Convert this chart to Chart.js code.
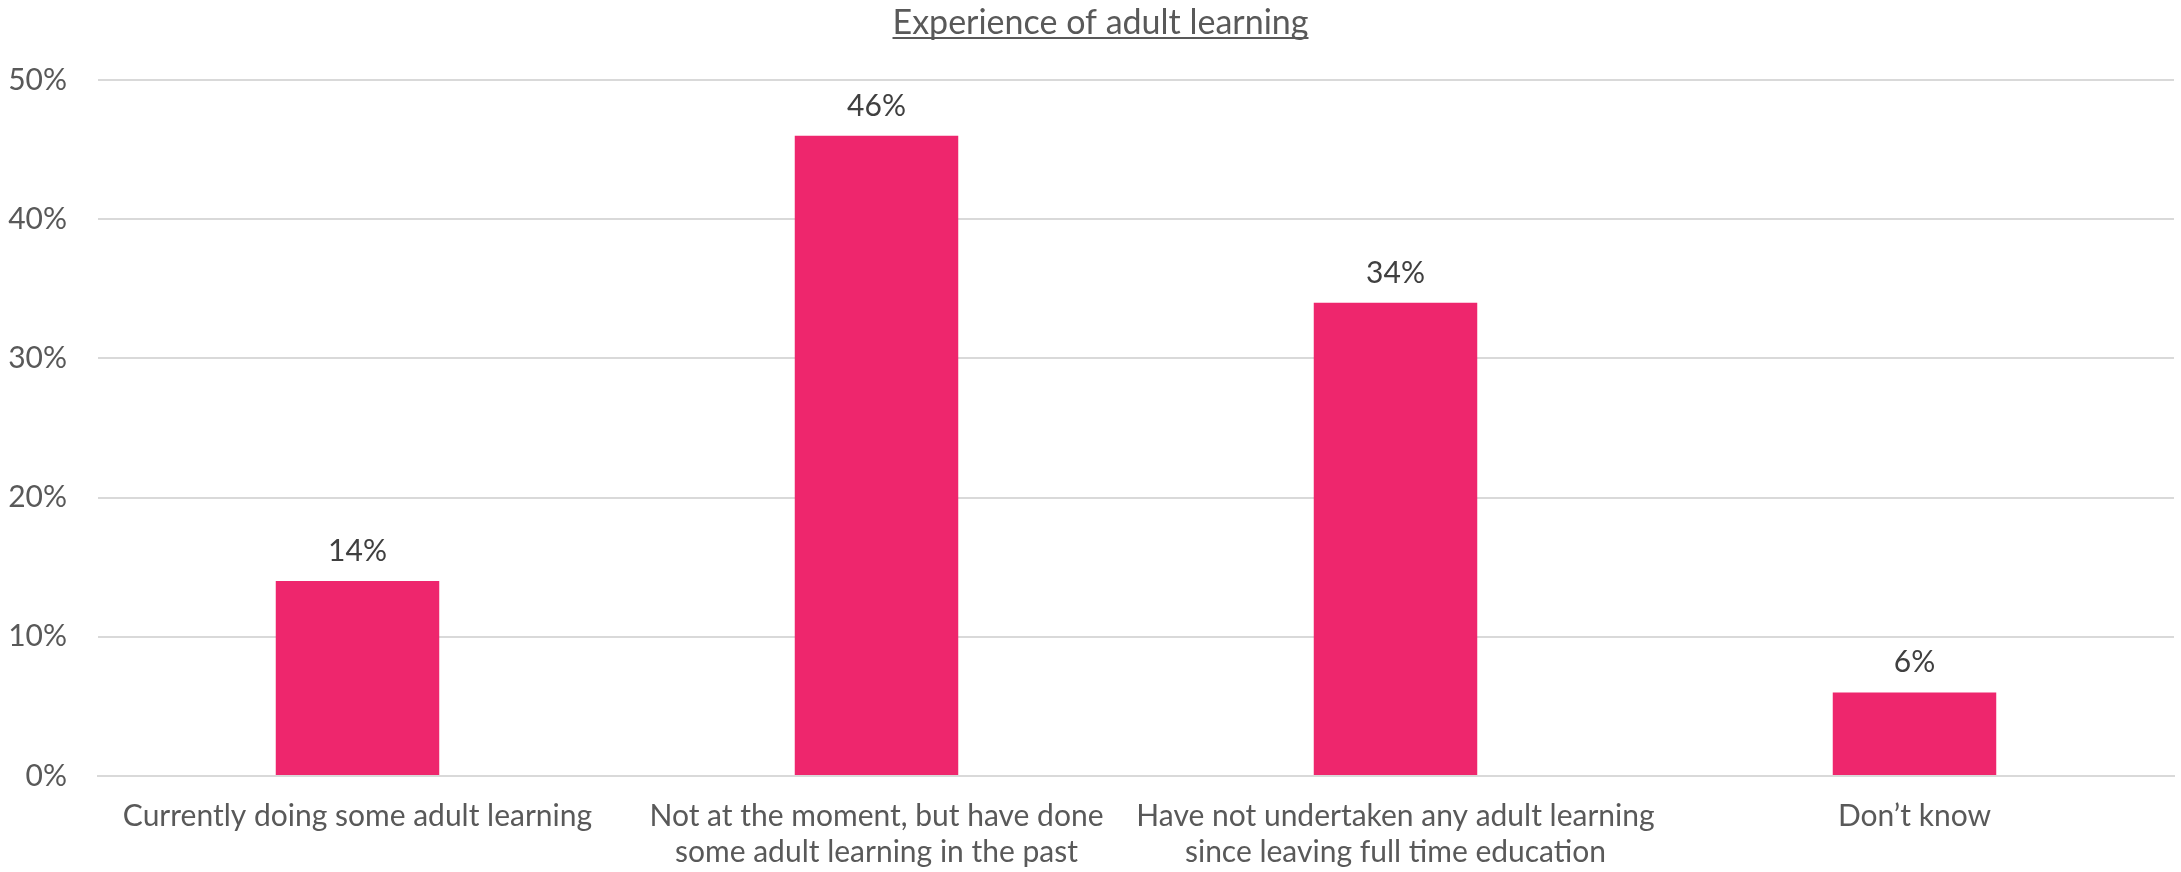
<!DOCTYPE html>
<html>
<head>
<meta charset="utf-8">
<script src="https://cdn.jsdelivr.net/npm/chart.js@4/dist/chart.umd.min.js"></script>
<style>
    html, body { margin: 0; padding: 0; background: #fff; }
    #wrap { width: 2181px; height: 872px; }
</style>
</head>
<body>
<div id="wrap"><canvas id="learningChart"></canvas></div>
<script>
const chartTitle = "Experience of adult learning";
const categories = [
    "Currently doing some adult learning",
    ["Not at the moment, but have done", "some adult learning in the past"],
    ["Have not undertaken any adult learning", "since leaving full time education"],
    "Don\u2019t know"
];
const shares = [14, 46, 34, 6];
const yTicks = [0, 10, 20, 30, 40, 50];

const FONT = "Lato, 'Noto Sans', sans-serif";

// value labels above each bar
const valueLabels = {
    id: "valueLabels",
    afterDatasetsDraw(chart) {
        const ctx = chart.ctx;
        const meta = chart.getDatasetMeta(0);
        ctx.save();
        ctx.font = "30px " + FONT;
        ctx.fillStyle = "#404040";
        ctx.textAlign = "center";
        ctx.textBaseline = "alphabetic";
        meta.data.forEach((bar, i) => {
            ctx.fillText(shares[i] + "%", bar.x, bar.y - 20);
        });
        ctx.restore();
    }
};

// underlined title centred on the canvas
const underlinedTitle = {
    id: "underlinedTitle",
    afterDraw(chart) {
        const ctx = chart.ctx;
        ctx.save();
        ctx.font = "34px " + FONT;
        ctx.fillStyle = "#595959";
        ctx.textAlign = "center";
        ctx.textBaseline = "alphabetic";
        const x = chart.width / 2 + 10;
        ctx.fillText(chartTitle, x, 34);
        const w = ctx.measureText(chartTitle).width;
        ctx.fillRect(x - w / 2, 37, w, 2);
        ctx.restore();
    }
};

new Chart(document.getElementById("learningChart"), {
    type: "bar",
    data: {
        labels: categories,
        datasets: [{
            data: shares,
            backgroundColor: "#EE266D",
            categoryPercentage: 1,
            barPercentage: 0.315
        }]
    },
    options: {
        responsive: true,
        maintainAspectRatio: false,
        animation: false,
        layout: { padding: { top: 80, right: 7, left: 0, bottom: 0 } },
        plugins: {
            legend: { display: false },
            tooltip: { enabled: false }
        },
        scales: {
            x: {
                afterFit(axis) { axis.height = 96; },
                grid: { display: false, drawTicks: false },
                border: { color: "#D9D9D9", width: 2 },
                ticks: {
                    color: "#595959",
                    font: { family: FONT, size: 30, lineHeight: 1.2 },
                    padding: 22,
                    maxRotation: 0,
                    autoSkip: false
                }
            },
            y: {
                min: 0,
                max: 50,
                afterFit(axis) { axis.width = 98; },
                afterBuildTicks(axis) {
                    axis.ticks = yTicks.map(v => ({ value: v }));
                },
                grid: { color: "#D9D9D9", lineWidth: 2, drawTicks: false },
                border: { display: false },
                ticks: {
                    color: "#595959",
                    font: { family: FONT, size: 30 },
                    padding: 31,
                    callback: v => v + "%"
                }
            }
        }
    },
    plugins: [valueLabels, underlinedTitle]
});
</script>
</body>
</html>
